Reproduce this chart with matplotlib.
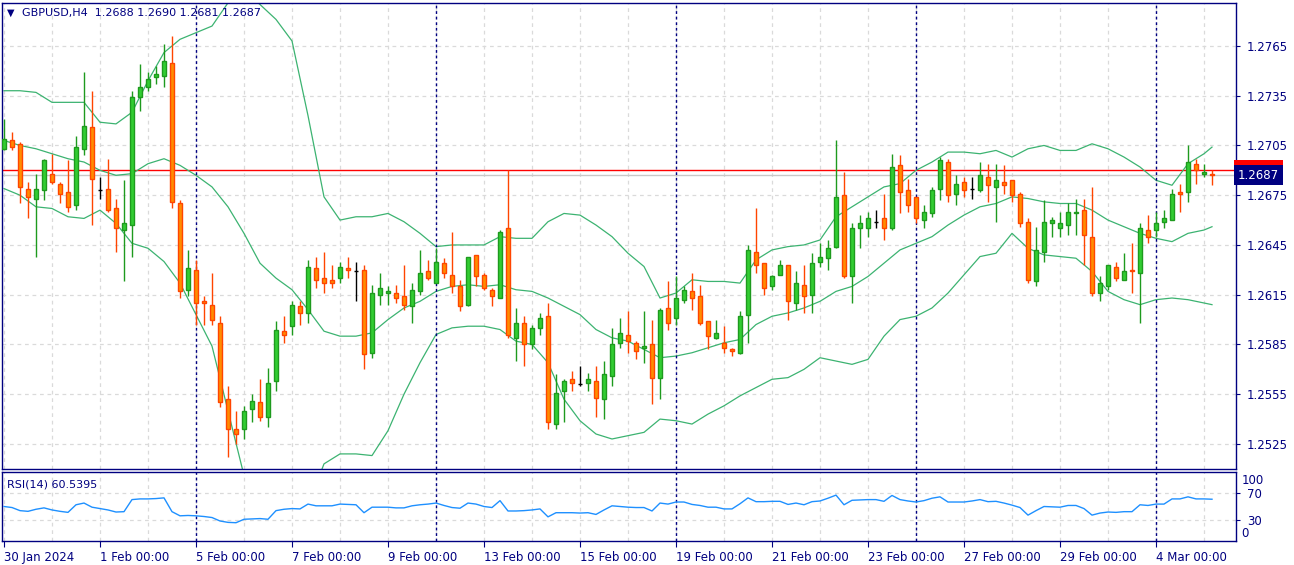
import numpy as np
import matplotlib.pyplot as plt
import matplotlib.transforms as mtransforms

# GBPUSD H4 candles (index 0 = 30 Jan 2024 00:00)
opens = [1.2703, 1.2708, 1.2706, 1.2679, 1.2673, 1.2678, 1.2688, 1.2682, 1.2677, 1.2669,
         1.2703, 1.2716, 1.2678, 1.2679, 1.2667, 1.2654, 1.2657, 1.2734, 1.2740, 1.2746,
         1.2747, 1.2755, 1.2670, 1.2618, 1.2630, 1.2611, 1.2609, 1.2598, 1.2552, 1.2534,
         1.2534, 1.2546, 1.2550, 1.2541, 1.2563, 1.2593, 1.2596, 1.2608, 1.2604, 1.2631,
         1.2625, 1.2624, 1.2625, 1.2631, 1.2629, 1.2630, 1.2580, 1.2615, 1.2616, 1.2616,
         1.2614, 1.2608, 1.2617, 1.2629, 1.2622, 1.2634, 1.2627, 1.2620, 1.2609, 1.2639,
         1.2627, 1.2618, 1.2613, 1.2655, 1.2589, 1.2598, 1.2585, 1.2595, 1.2602, 1.2537,
         1.2557, 1.2564, 1.2561, 1.2562, 1.2563, 1.2552, 1.2566, 1.2586, 1.2591, 1.2586,
         1.2583, 1.2585, 1.2565, 1.2607, 1.2601, 1.2612, 1.2617, 1.2614, 1.2599, 1.2589,
         1.2586, 1.2582, 1.2580, 1.2603, 1.2641, 1.2634, 1.2620, 1.2627, 1.2633, 1.2610,
         1.2621, 1.2615, 1.2635, 1.2637, 1.2644, 1.2675, 1.2626, 1.2655, 1.2655, 1.2659,
         1.2661, 1.2655, 1.2693, 1.2678, 1.2674, 1.2660, 1.2664, 1.2679, 1.2695, 1.2676,
         1.2683, 1.2679, 1.2678, 1.2686, 1.2680, 1.2683, 1.2684, 1.2676, 1.2659, 1.2623,
         1.2641, 1.2658, 1.2655, 1.2657, 1.2664, 1.2666, 1.2650, 1.2616, 1.2620, 1.2632,
         1.2624, 1.2630, 1.2628, 1.2654, 1.2654, 1.2659, 1.2660, 1.2677, 1.2677, 1.2694,
         1.2688, 1.2688]
highs = [1.2721, 1.2713, 1.2707, 1.2683, 1.2688, 1.2697, 1.2700, 1.2683, 1.2696, 1.2711,
         1.2749, 1.2738, 1.2686, 1.2697, 1.2673, 1.2684, 1.2738, 1.2754, 1.2749, 1.2753,
         1.2766, 1.2771, 1.2672, 1.2642, 1.2636, 1.2614, 1.2628, 1.2602, 1.2560, 1.2545,
         1.2548, 1.2555, 1.2564, 1.2571, 1.2599, 1.2602, 1.2611, 1.2611, 1.2636, 1.2638,
         1.2641, 1.2633, 1.2635, 1.2638, 1.2635, 1.2633, 1.2621, 1.2628, 1.2620, 1.2621,
         1.2633, 1.2622, 1.2642, 1.2636, 1.2643, 1.2637, 1.2653, 1.2624, 1.2638, 1.2639,
         1.2628, 1.2619, 1.2654, 1.2690, 1.2607, 1.2602, 1.2597, 1.2604, 1.2610, 1.2567,
         1.2564, 1.2569, 1.2572, 1.2568, 1.2572, 1.2575, 1.2595, 1.2601, 1.2605, 1.2587,
         1.2605, 1.2600, 1.2607, 1.2623, 1.2626, 1.2620, 1.2628, 1.2621, 1.2599, 1.2600,
         1.2596, 1.2583, 1.2605, 1.2645, 1.2667, 1.2634, 1.2627, 1.2636, 1.2633, 1.2629,
         1.2633, 1.2640, 1.2646, 1.2648, 1.2708, 1.2689, 1.2658, 1.2663, 1.2665, 1.2666,
         1.2676, 1.2700, 1.2699, 1.2685, 1.2674, 1.2669, 1.2680, 1.2698, 1.2697, 1.2687,
         1.2686, 1.2686, 1.2695, 1.2694, 1.2694, 1.2693, 1.2684, 1.2677, 1.2661, 1.2656,
         1.2672, 1.2662, 1.2665, 1.2670, 1.2673, 1.2673, 1.2680, 1.2626, 1.2633, 1.2635,
         1.2640, 1.2646, 1.2658, 1.2663, 1.2665, 1.2666, 1.2679, 1.2682, 1.2705, 1.2697,
         1.2694, 1.2690]
lows = [1.2702, 1.2702, 1.2670, 1.2661, 1.2638, 1.2672, 1.2682, 1.2670, 1.2665, 1.2666,
        1.2699, 1.2657, 1.2673, 1.2665, 1.2641, 1.2623, 1.2638, 1.2726, 1.2738, 1.2742,
        1.2740, 1.2667, 1.2613, 1.2614, 1.2597, 1.2597, 1.2597, 1.2547, 1.2517, 1.2525,
        1.2528, 1.2538, 1.2539, 1.2535, 1.2557, 1.2586, 1.2591, 1.2597, 1.2598, 1.2619,
        1.2616, 1.2619, 1.2622, 1.2625, 1.2611, 1.2570, 1.2577, 1.2609, 1.2609, 1.2610,
        1.2606, 1.2598, 1.2615, 1.2624, 1.2622, 1.2625, 1.2616, 1.2605, 1.2608, 1.2620,
        1.2618, 1.2608, 1.2613, 1.2589, 1.2575, 1.2572, 1.2582, 1.2591, 1.2534, 1.2534,
        1.2538, 1.2557, 1.2560, 1.2557, 1.2541, 1.2540, 1.2560, 1.2583, 1.2580, 1.2576,
        1.2574, 1.2549, 1.2552, 1.2594, 1.2597, 1.2610, 1.2606, 1.2597, 1.2582, 1.2588,
        1.2580, 1.2578, 1.2579, 1.2586, 1.2628, 1.2615, 1.2618, 1.2627, 1.2600, 1.2606,
        1.2604, 1.2604, 1.2632, 1.2630, 1.2643, 1.2625, 1.2610, 1.2643, 1.2650, 1.2655,
        1.2648, 1.2654, 1.2664, 1.2665, 1.2658, 1.2655, 1.2662, 1.2672, 1.2671, 1.2669,
        1.2674, 1.2673, 1.2677, 1.2671, 1.2659, 1.2676, 1.2671, 1.2656, 1.2622, 1.2620,
        1.2635, 1.2650, 1.2650, 1.2651, 1.2651, 1.2633, 1.2614, 1.2611, 1.2618, 1.2623,
        1.2624, 1.2616, 1.2598, 1.2646, 1.2650, 1.2655, 1.2660, 1.2665, 1.2671, 1.2682,
        1.2686, 1.2681]
closes = [1.2709, 1.2704, 1.2680, 1.2674, 1.2679, 1.2696, 1.2683, 1.2676, 1.2668, 1.2704,
          1.2717, 1.2685, 1.2678, 1.2666, 1.2655, 1.2658, 1.2734, 1.2740, 1.2745, 1.2748,
          1.2756, 1.2671, 1.2617, 1.2631, 1.2610, 1.2610, 1.2600, 1.2550, 1.2534, 1.2531,
          1.2545, 1.2551, 1.2541, 1.2562, 1.2594, 1.2591, 1.2609, 1.2604, 1.2632, 1.2624,
          1.2622, 1.2622, 1.2632, 1.2630, 1.2629, 1.2579, 1.2616, 1.2619, 1.2617, 1.2613,
          1.2609, 1.2618, 1.2628, 1.2625, 1.2635, 1.2628, 1.2620, 1.2608, 1.2638, 1.2626,
          1.2619, 1.2614, 1.2653, 1.2591, 1.2598, 1.2585, 1.2595, 1.2601, 1.2538, 1.2556,
          1.2563, 1.2562, 1.2561, 1.2564, 1.2553, 1.2567, 1.2585, 1.2592, 1.2587, 1.2581,
          1.2584, 1.2565, 1.2606, 1.2598, 1.2613, 1.2618, 1.2613, 1.2598, 1.2590, 1.2592,
          1.2583, 1.2581, 1.2602, 1.2642, 1.2633, 1.2619, 1.2626, 1.2633, 1.2611, 1.2622,
          1.2614, 1.2634, 1.2638, 1.2643, 1.2674, 1.2626, 1.2655, 1.2658, 1.2661, 1.2659,
          1.2655, 1.2692, 1.2677, 1.2669, 1.2661, 1.2665, 1.2678, 1.2696, 1.2675, 1.2682,
          1.2678, 1.2679, 1.2687, 1.2681, 1.2684, 1.2681, 1.2675, 1.2658, 1.2624, 1.2642,
          1.2659, 1.2660, 1.2658, 1.2665, 1.2665, 1.2651, 1.2616, 1.2622, 1.2633, 1.2625,
          1.2629, 1.2629, 1.2655, 1.2650, 1.2658, 1.2661, 1.2676, 1.2676, 1.2695, 1.2690,
          1.2689, 1.2687]

# Bollinger bands, read every second candle (+ the last one)
bb_upper = [1.2738, 1.2738, 1.2737, 1.2731, 1.2731, 1.2731, 1.2719, 1.2718, 1.2725, 1.2744,
            1.2761, 1.2769, 1.2773, 1.2777, 1.2791, 1.2798, 1.2790, 1.2781, 1.2768, 1.2723,
            1.2674, 1.2660, 1.2662, 1.2662, 1.2664, 1.2659, 1.2652, 1.2644, 1.2645, 1.2645,
            1.2645, 1.2650, 1.2649, 1.2649, 1.2659, 1.2664, 1.2663, 1.2657, 1.2650, 1.2640,
            1.2632, 1.2613, 1.2616, 1.2624, 1.2623, 1.2623, 1.2622, 1.2636, 1.2642, 1.2644,
            1.2645, 1.2648, 1.2662, 1.2668, 1.2674, 1.2680, 1.2682, 1.2690, 1.2695, 1.2701,
            1.2701, 1.2700, 1.2702, 1.2698, 1.2703, 1.2705, 1.2702, 1.2702, 1.2706, 1.2703,
            1.2698, 1.2692, 1.2684, 1.2681, 1.2694, 1.2700, 1.2704]
bb_middle = [1.2708, 1.2705, 1.2703, 1.2700, 1.2697, 1.2695, 1.2690, 1.2687, 1.2688, 1.2694,
             1.2697, 1.2693, 1.2687, 1.2680, 1.2668, 1.2652, 1.2634, 1.2625, 1.2618, 1.2606,
             1.2593, 1.2590, 1.2590, 1.2592, 1.2600, 1.2607, 1.2611, 1.2617, 1.2620, 1.2621,
             1.2620, 1.2621, 1.2618, 1.2617, 1.2613, 1.2608, 1.2603, 1.2594, 1.2589, 1.2587,
             1.2582, 1.2577, 1.2578, 1.2580, 1.2583, 1.2586, 1.2588, 1.2597, 1.2602, 1.2604,
             1.2607, 1.2611, 1.2617, 1.2620, 1.2626, 1.2634, 1.2642, 1.2646, 1.2650, 1.2657,
             1.2663, 1.2668, 1.2670, 1.2674, 1.2673, 1.2671, 1.2670, 1.2670, 1.2666, 1.2660,
             1.2656, 1.2652, 1.2649, 1.2647, 1.2652, 1.2654, 1.2656]
bb_lower = [1.2679, 1.2675, 1.2668, 1.2667, 1.2662, 1.2661, 1.2666, 1.2658, 1.2646, 1.2643,
            1.2635, 1.2622, 1.2603, 1.2584, 1.2545, 1.2506, 1.2478, 1.2469, 1.2468, 1.2488,
            1.2513, 1.2519, 1.2519, 1.2518, 1.2533, 1.2555, 1.2574, 1.2591, 1.2595, 1.2596,
            1.2596, 1.2594, 1.2587, 1.2585, 1.2574, 1.2552, 1.2539, 1.2531, 1.2528, 1.2530,
            1.2532, 1.2540, 1.2539, 1.2537, 1.2543, 1.2548, 1.2554, 1.2559, 1.2564, 1.2565,
            1.2570, 1.2577, 1.2575, 1.2573, 1.2576, 1.2590, 1.2600, 1.2602, 1.2607, 1.2616,
            1.2627, 1.2638, 1.2640, 1.2652, 1.2643, 1.2639, 1.2638, 1.2637, 1.2629, 1.2617,
            1.2612, 1.2609, 1.2612, 1.2613, 1.2612, 1.2610, 1.2609]

# RSI(14), one value per candle
rsi = [50, 48.5, 44, 43, 46, 48, 45, 43, 41.5, 52.5,
       55, 49, 47, 45, 42, 42.5, 60, 61, 61, 61.5,
       62.5, 42.5, 36.5, 37, 36.5, 35.5, 34, 29, 27, 26.5,
       31.5, 32, 32.5, 31.5, 44, 46, 47, 46.5, 53.5, 51,
       51, 51, 53.5, 53, 52.5, 41, 49, 49, 49, 48,
       48, 51, 52.5, 53.5, 55, 51.5, 48.5, 47.5, 55, 53.5,
       50, 48.5, 58.5, 43.5, 43.5, 44, 45, 46.5, 35, 41,
       41, 41, 40.5, 41, 38.5, 45, 51, 50, 49, 48.5,
       48.5, 43.5, 55, 53.5, 56.5, 56.5, 53, 51.5, 49, 49,
       46.5, 46.5, 54, 62.5, 57, 57, 57.5, 57.5, 53, 55,
       52.5, 57, 58, 62, 66.5, 52.5, 59, 59.5, 60, 60,
       57.5, 66, 60, 58, 56.5, 58.5, 62, 64, 56.5, 56.5,
       56.5, 58, 60, 57, 57.5, 55, 52, 48.5, 37.5, 44,
       50, 49.5, 49, 51.5, 51.5, 47, 37.5, 40.5, 42, 41.5,
       42.5, 42.5, 52.5, 51.5, 53.5, 53.5, 61, 61, 64, 61,
       61, 60.5395]

date_labels = ['30 Jan 2024', '1 Feb 00:00', '5 Feb 00:00', '7 Feb 00:00', '9 Feb 00:00',
               '13 Feb 00:00', '15 Feb 00:00', '19 Feb 00:00', '21 Feb 00:00',
               '23 Feb 00:00', '27 Feb 00:00', '29 Feb 00:00', '4 Mar 00:00']
price_ticks = [1.2525, 1.2555, 1.2585, 1.2615, 1.2645, 1.2675, 1.2705, 1.2735, 1.2765]
week_starts = [24, 54, 84, 114, 144]
bid, ask = 1.2687, 1.2690

NAVY = '#000080'
BULL, BULL_EDGE = '#32CD32', '#1E9A1E'
BEAR, BEAR_EDGE = '#FF8C00', '#FF4500'
BAND = '#3CB371'
GRID = '#DADADA'

plt.rcParams['font.family'] = ['DejaVu Sans']
plt.rcParams['font.size'] = 8

W, H = 1294, 565
fig = plt.figure(figsize=(W / 100, H / 100), dpi=100)
ax = fig.add_axes([2 / W, 1 - 469 / H, 1234 / W, 466 / H])
ax_rsi = fig.add_axes([2 / W, 1 - 541 / H, 1234 / W, 69 / H], sharex=ax)

o, h, l, c = map(np.array, (opens, highs, lows, closes))
x = np.arange(len(o))
up, down, flat = c > o, c < o, c == o

# candles
ax.vlines(x[up], l[up], h[up], color=BULL_EDGE, lw=1, zorder=3)
ax.vlines(x[down], l[down], h[down], color=BEAR_EDGE, lw=1, zorder=3)
ax.vlines(x[flat], l[flat], h[flat], color='black', lw=1, zorder=3)
ax.bar(x[up], c[up] - o[up], bottom=o[up], width=0.62, color=BULL,
       edgecolor=BULL_EDGE, lw=1, zorder=4)
ax.bar(x[down], o[down] - c[down], bottom=c[down], width=0.62, color=BEAR,
       edgecolor=BEAR_EDGE, lw=1, zorder=4)
ax.hlines(o[flat], x[flat] - 0.3, x[flat] + 0.3, color='black', lw=1, zorder=4)

# bollinger bands
band_x = list(range(0, len(o) - 1, 2)) + [len(o) - 1]
for band in (bb_upper, bb_middle, bb_lower):
    ax.plot(band_x, band, color=BAND, lw=0.9, zorder=2)

# bid / ask lines
ax.axhline(bid, color='#C8C8C8', lw=1, zorder=1)
ax.axhline(ask, color='red', lw=1, zorder=1)

ax.set_xlim(-0.25, 154)
ax.set_ylim(1.25099, 1.27909)

# rsi panel
ax_rsi.plot(x, rsi, color='#1E90FF', lw=1, zorder=3)
ax_rsi.set_ylim(0, 100)

grid_x = np.arange(0, 155, 6)
for a in (ax, ax_rsi):
    a.set_xticks(grid_x, minor=True)
    a.grid(True, which='minor', axis='x', color=GRID, ls=(0, (3, 3)), lw=0.9)
    a.grid(True, which='major', color=GRID, ls=(0, (3, 3)), lw=0.9)
    for w in week_starts:
        a.axvline(w, color=NAVY, ls=(0, (2, 2)), lw=1, zorder=2)
    for s in a.spines.values():
        s.set_color(NAVY)
        s.set_linewidth(1)
    a.tick_params(which='minor', length=0)
    a.yaxis.tick_right()
    a.tick_params(axis='y', colors=NAVY, length=3, pad=5, labelsize=8.5)
    a.set_axisbelow(True)

ax.set_yticks(price_ticks)
ax.set_yticklabels([f'{p:.4f}' for p in price_ticks])
ax.tick_params(axis='x', which='major', length=0, labelbottom=False)

ax_rsi.set_yticks([30, 70])
ax_rsi.set_xticks(np.arange(0, 145, 12))
ax_rsi.set_xticklabels(date_labels, ha='left')
ax_rsi.tick_params(axis='x', which='major', length=4, colors=NAVY, pad=3, labelsize=8.5)
blend_r = mtransforms.blended_transform_factory(ax_rsi.transAxes, ax_rsi.transData)
ax_rsi.text(1.0045, 88, '100', transform=blend_r, color=NAVY, fontsize=8.5, va='center')
ax_rsi.text(1.0045, 11, '0', transform=blend_r, color=NAVY, fontsize=8.5, va='center')
ax_rsi.text(0.004, 0.82, 'RSI(14) 60.5395', transform=ax_rsi.transAxes, color=NAVY,
            fontsize=8, va='center')

# price boxes at the right (ask box sits mostly behind the bid box)
blend = mtransforms.blended_transform_factory(ax.transAxes, ax.transData)
ax.text(1.0015, ask, f'{ask:.4f}', transform=blend, color='white', fontsize=8.5,
        va='center', ha='left', zorder=10,
        bbox=dict(boxstyle='square,pad=0.3', fc='red', ec='none'))
ax.text(1.0015, bid, f'{bid:.4f}', transform=blend, color='white', fontsize=8.5,
        va='center', ha='left', zorder=11,
        bbox=dict(boxstyle='square,pad=0.3', fc=NAVY, ec='none'))

# header
ax.text(0.004, 0.978, '\u25bc', transform=ax.transAxes, color=NAVY, fontsize=7,
        va='center')
ax.text(0.016, 0.978, 'GBPUSD,H4  1.2688 1.2690 1.2681 1.2687', transform=ax.transAxes,
        color=NAVY, fontsize=8, va='center')

fig.savefig('out.png', dpi=100)
